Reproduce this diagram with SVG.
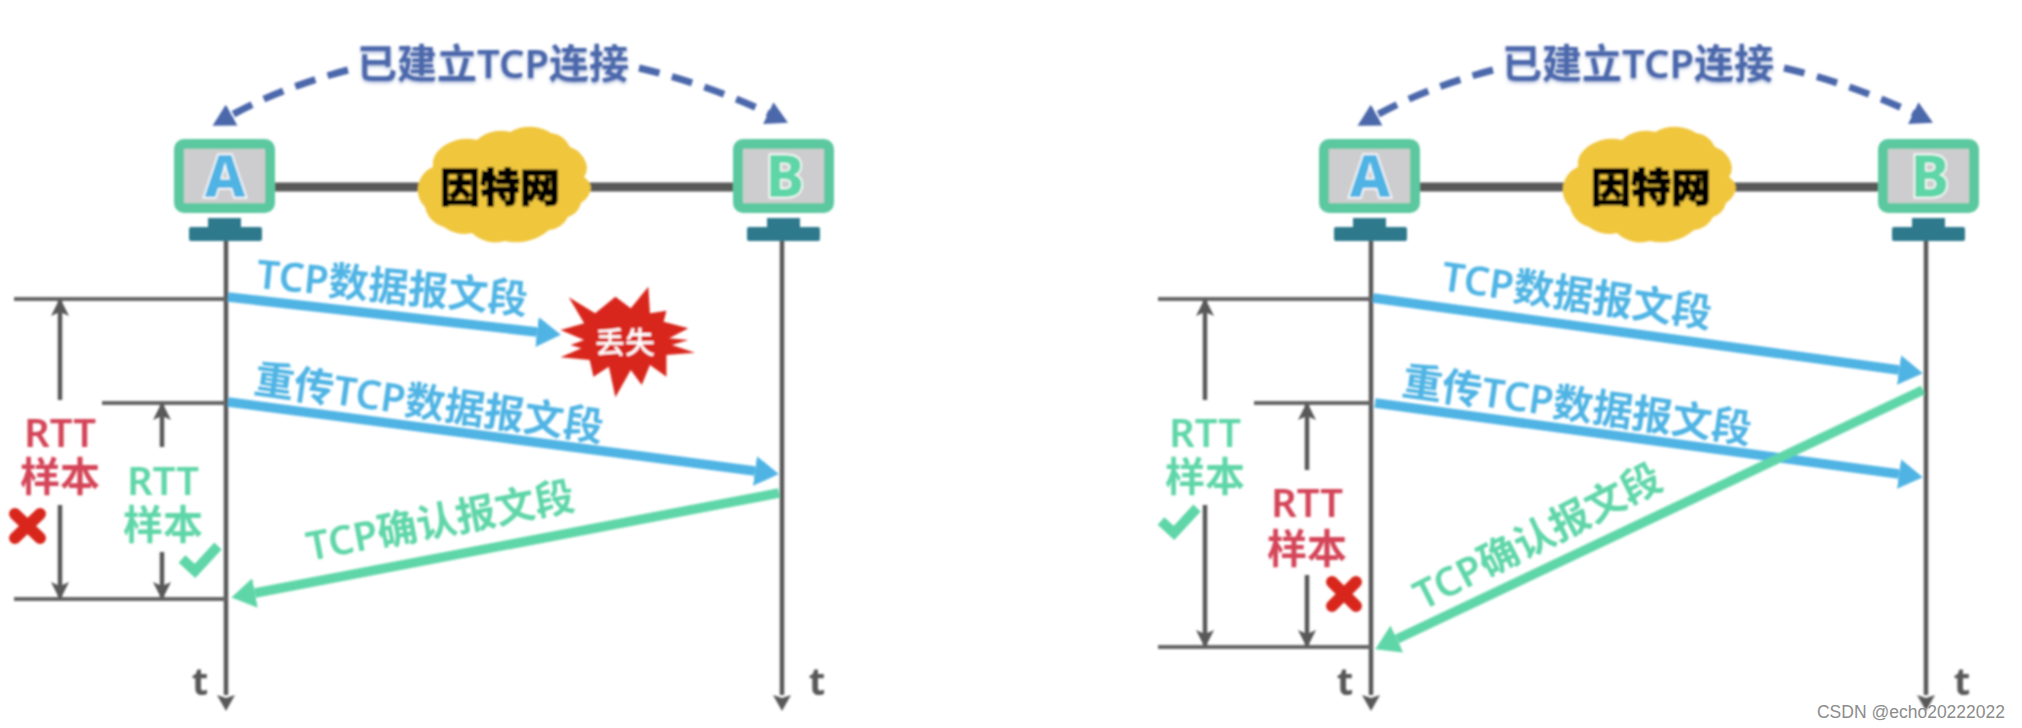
<svg xmlns="http://www.w3.org/2000/svg" xmlns:xlink="http://www.w3.org/1999/xlink" width="2022" height="728" viewBox="0 0 2022 728">
<style>
text{font-family:"Noto Sans","Noto Sans CJK SC",sans-serif;font-weight:600;font-size:40px;text-anchor:middle}
.blue{fill:#4fb4e4}.green{fill:#5fd6a8}.red{fill:#d44558}.navy{fill:#4b68ab}
.t{fill:#595959;font-weight:700;font-size:38px}
.ln{stroke:#595959;fill:none}
.ax{stroke-width:4.5;marker-end:url(#ga)}
.h{stroke:#666;stroke-width:4}
.dn{stroke-width:4.5;marker-end:url(#ge)}
.bl{stroke:#4fb4e4;stroke-width:9.5;fill:none;marker-end:url(#ba)}
.gl{stroke:#5fd6a8;stroke-width:9.5;fill:none;marker-end:url(#gra)}
.dash{stroke:#4b68ab;stroke-width:7;stroke-dasharray:21 13;fill:none;marker-end:url(#na)}
.scr{fill:#cdcdcf;stroke:#5cc8a0;stroke-width:10}
.base{fill:#2f7a8c}
.wire{stroke:#595959;stroke-width:9}
.cloud{fill:#f0c63c}
.let{font-size:58px;font-weight:800;stroke:#fff;stroke-width:3;paint-order:stroke}
.net{font-size:40px;font-weight:800;fill:#000;stroke:#000;stroke-width:1}
.x{stroke:#d9281e;stroke-width:12;stroke-linecap:round;fill:none}
.c{stroke:#5fd6a8;stroke-width:10;fill:none}
</style>
<defs>
<marker id="ga" markerUnits="userSpaceOnUse" viewBox="0 0 16 18" refX="0" refY="9" markerWidth="16" markerHeight="18" orient="auto"><path d="M0,0L16,9L0,18L3,9z" fill="#595959"/></marker>
<marker id="ge" markerUnits="userSpaceOnUse" viewBox="0 0 18 18" refX="15" refY="9" markerWidth="18" markerHeight="18" orient="auto"><path d="M0,0L18,9L0,18L4,9z" fill="#595959"/></marker>
<marker id="ba" markerUnits="userSpaceOnUse" viewBox="0 0 24 30" refX="0" refY="15" markerWidth="24" markerHeight="30" orient="auto"><path d="M0,0L24,15L0,30z" fill="#4fb4e4"/></marker>
<marker id="gra" markerUnits="userSpaceOnUse" viewBox="0 0 24 30" refX="0" refY="15" markerWidth="24" markerHeight="30" orient="auto"><path d="M0,0L24,15L0,30z" fill="#5fd6a8"/></marker>
<marker id="na" markerUnits="userSpaceOnUse" viewBox="0 0 22 24" refX="2" refY="12" markerWidth="22" markerHeight="24" orient="auto"><path d="M0,0L22,12L0,24z" fill="#4b68ab"/></marker>
<filter id="soft" x="-2%" y="-2%" width="104%" height="104%"><feGaussianBlur stdDeviation="0.9"/></filter>
<filter id="sh" x="-10%" y="-20%" width="120%" height="150%"><feDropShadow dx="0" dy="2" stdDeviation="1.5" flood-color="#4b68ab" flood-opacity=".45"/></filter>
<path id="cl" class="cloud" d="M477,140A36,36 0 0 1 510,132A40,40 0 0 1 551,133A24,24 0 0 1 570,147A26,26 0 0 1 586,163A16,16 0 0 1 584,177A16,16 0 0 1 591,188A22,22 0 0 1 581,203A20,20 0 0 1 568,217A24,24 0 0 1 549,230A50,50 0 0 1 505,241A34,34 0 0 1 472,233A34,34 0 0 1 444,227A26,26 0 0 1 425,207A24,24 0 0 1 418,187A24,24 0 0 1 433,167A20,20 0 0 1 439,150A40,40 0 0 1 477,140z"/>
</defs>
<rect width="2022" height="728" fill="#fff"/>
<g filter="url(#soft)">
<g id="connectors">
<path class="wire" d="M275,187H733M1420,187H1878"/>
<path class="dash" d="M348,70Q280,88 230,116"/>
<path class="dash" d="M639,68Q710,85 770,114"/>
<path class="dash" d="M1493,70Q1425,88 1375,116"/>
<path class="dash" d="M1784,68Q1855,85 1915,114"/>
<path class="ln ax" d="M226,241V695"/>
<path class="ln ax" d="M782,241V695"/>
<path class="ln ax" d="M1371,241V695"/>
<path class="ln ax" d="M1926,241V695"/>
<path class="h" d="M14,299H226M102,403H226M14,599H226M1158,299H1371M1254,403H1371M1158,647H1371"/>
<path class="ln dn" d="M60,400V301"/><path class="ln dn" d="M60,505V597"/>
<path class="ln dn" d="M162,447V405"/><path class="ln dn" d="M162,552V597"/>
<path class="ln dn" d="M1205,400V301"/><path class="ln dn" d="M1205,505V645"/>
<path class="ln dn" d="M1307,470V405"/><path class="ln dn" d="M1307,575V645"/>
<path class="bl" d="M228,297L537,332"/>
<path class="bl" d="M228,402L755,471"/>
<path class="gl" d="M779,493L255,593"/>
<path class="bl" d="M1373,298L1899,370"/>
<path class="bl" d="M1375,403L1899,474"/>
<path class="gl" d="M1923,390L1397,639"/>
</g>
<g id="host-a-left"><rect class="scr" x="179" y="144" width="91" height="64" rx="5"/><rect class="base" x="208" y="218" width="33" height="12"/><rect class="base" x="189" y="227" width="73" height="14" rx="2"/><text class="let blue" x="225" y="197">A</text></g>
<g id="host-b-left"><rect class="scr" x="738" y="144" width="91" height="64" rx="5"/><rect class="base" x="767" y="218" width="33" height="12"/><rect class="base" x="747" y="227" width="73" height="14" rx="2"/><text class="let green" x="785" y="197">B</text></g>
<g id="host-a-right"><rect class="scr" x="1324" y="144" width="91" height="64" rx="5"/><rect class="base" x="1353" y="218" width="33" height="12"/><rect class="base" x="1334" y="227" width="73" height="14" rx="2"/><text class="let blue" x="1370" y="197">A</text></g>
<g id="host-b-right"><rect class="scr" x="1883" y="144" width="91" height="64" rx="5"/><rect class="base" x="1912" y="218" width="33" height="12"/><rect class="base" x="1892" y="227" width="73" height="14" rx="2"/><text class="let green" x="1930" y="197">B</text></g>
<g id="cloud-left"><use xlink:href="#cl" href="#cl"/><text class="net" x="500" y="202">因特网</text></g>
<g id="cloud-right"><use xlink:href="#cl" href="#cl" x="1145"/><text class="net" x="1651" y="202">因特网</text></g>
<g id="conn-label-left"><text class="navy" filter="url(#sh)" x="493" y="78">已建立TCP连接</text></g>
<g id="conn-label-right"><text class="navy" filter="url(#sh)" x="1638" y="78">已建立TCP连接</text></g>
<g id="lost"><path fill="#d9281e" transform="translate(0,280) scale(.5485,.3333)" d="M1037,52L1085,100L1122,50L1150,85L1182,20L1185,100L1215,92L1210,125L1255,145L1220,175L1255,180L1225,195L1267,218L1215,225L1215,290L1185,255L1170,315L1150,270L1122,352L1110,260L1082,290L1075,240L1022,232L1060,205L1040,195L1065,180L1022,150L1065,130z"/><text x="625" y="353" style="font-size:30px;font-weight:500;fill:#fff">丢失</text></g>
<g id="labels">
<text class="blue" transform="translate(391,301) rotate(5.5)">TCP数据报文段</text>
<text class="blue" transform="translate(427,417) rotate(8)">重传TCP数据报文段</text>
<text class="green" transform="translate(443,535) rotate(-11)">TCP确认报文段</text>
<text class="blue" transform="translate(1575,309) rotate(8)">TCP数据报文段</text>
<text class="blue" transform="translate(1575,419) rotate(8)">重传TCP数据报文段</text>
<text class="green" transform="translate(1544,549) rotate(-27)">TCP确认报文段</text>
<text class="red" x="60" y="447">RTT</text><text class="red" x="60" y="491">样本</text>
<text class="green" x="163" y="495">RTT</text><text class="green" x="163" y="539">样本</text>
<text class="green" x="1205" y="447">RTT</text><text class="green" x="1205" y="491">样本</text>
<text class="red" x="1307" y="517">RTT</text><text class="red" x="1307" y="563">样本</text>
<text class="t" x="200" y="695">t</text><text class="t" x="817" y="695">t</text>
<text class="t" x="1345" y="695">t</text><text class="t" x="1962" y="695">t</text>
</g>
<g id="marks">
<path class="x" d="M15,514L40,538M40,514L15,538"/>
<path class="x" d="M1332,582L1356,606M1356,582L1332,606"/>
<path class="c" d="M182,559L195,571L218,546"/>
<path class="c" d="M1161,521L1174,533L1197,508"/>
</g>
</g>
<text x="1911" y="718" style="font-family:'Liberation Sans',sans-serif;font-size:17.5px;font-weight:400;fill:#8c8c8c">CSDN @echo20222022</text>
</svg>
